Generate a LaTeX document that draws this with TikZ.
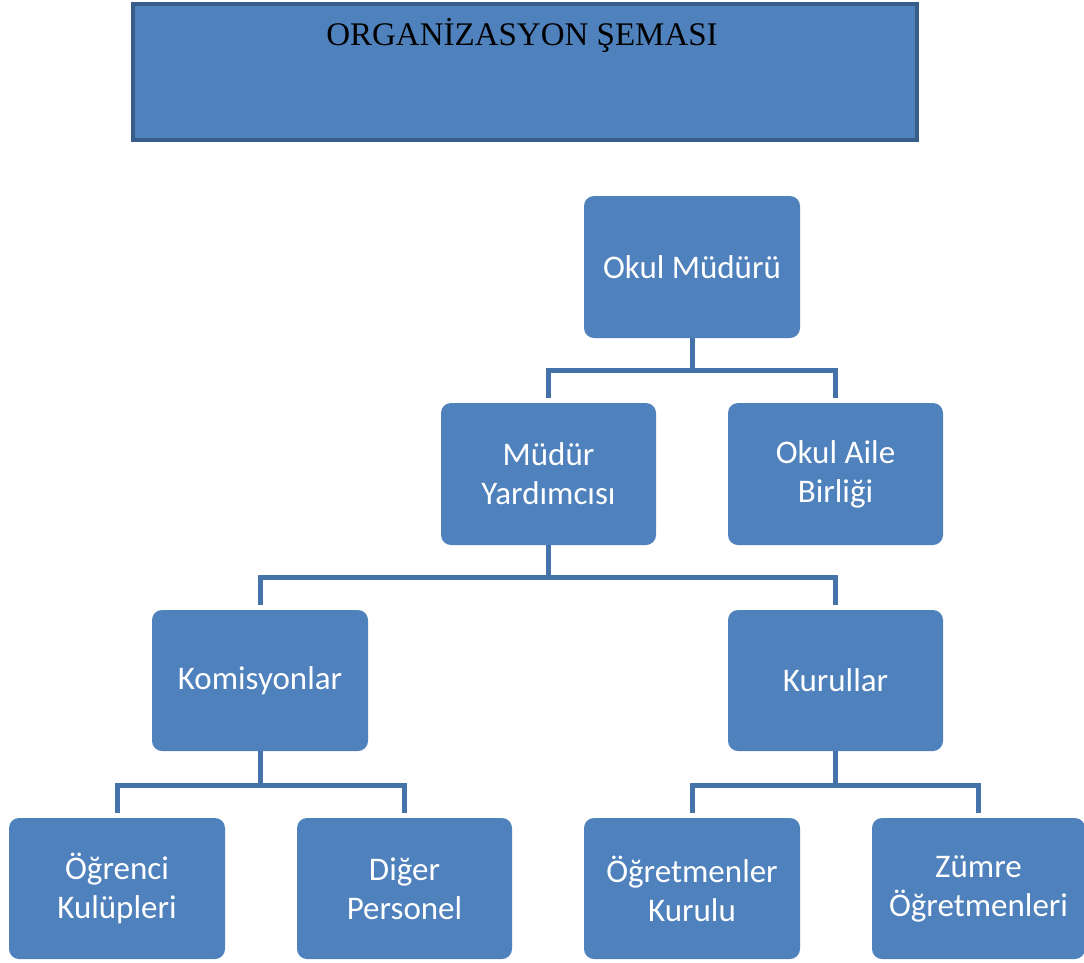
\documentclass[tikz,border=0pt]{standalone}
\usepackage{fontspec}
\setmainfont{Carlito}
\newfontfamily\titlefont{Liberation Serif}
\definecolor{boxfill}{HTML}{4F81BD}
\definecolor{titleedge}{HTML}{385D8A}
\definecolor{linecol}{HTML}{4672AA}
\begin{document}
\begin{tikzpicture}[x=1pt,y=-1pt,
  orgbox/.style={fill=boxfill, rounded corners=10pt, minimum width=216pt, minimum height=142pt,
    text=white, align=center, font=\fontsize{33}{39}\selectfont, inner sep=0pt},
  link/.style={draw=linecol, line width=5pt, shorten >=5pt}]
\useasboundingbox (0,0) rectangle (1084,962);
% title
\node[fill=boxfill, draw=titleedge, line width=4pt, minimum width=784pt, minimum height=136pt,
  anchor=north west, inner sep=0pt] (titlebox) at (131,2) {};
\node[font=\titlefont\fontsize{33}{39}\selectfont, anchor=base, inner sep=0pt] (titletext) at (522,45) {ORGANİZASYON ŞEMASI};
% boxes
\node[orgbox] (om) at (692,267) {Okul Müdürü};
\node[orgbox, minimum width=215pt] (my) at (548.5,474) {Müdür\\Yardımcısı};
\node[orgbox, minimum width=215pt] (oab) at (835.5,474) {Okul Aile\\Birliği};
\node[orgbox, minimum height=141pt] (kom) at (260,680.5) {Komisyonlar};
\node[orgbox, minimum width=215pt, minimum height=141pt] (kur) at (835.5,680.5) {Kurullar};
\node[orgbox, minimum height=141pt] (ok) at (117,888.5) {Öğrenci\\Kulüpleri};
\node[orgbox, minimum width=215pt, minimum height=141pt] (dp) at (404.5,888.5) {Diğer\\Personel};
\node[orgbox, minimum height=141pt] (oku) at (692,888.5) {Öğretmenler\\Kurulu};
\node[orgbox, minimum width=213pt, minimum height=141pt] (zo) at (978.5,888.5) {Zümre\\Öğretmenleri};
% hubs
\coordinate (h1) at (692,370);
\coordinate (h2) at (548.5,577);
\coordinate (h3) at (260,785);
\coordinate (h4) at (835.5,785);
% connectors
\draw[link, shorten >=0pt] (om.south) -- (h1);
\draw[link] (h1) -| (my.north);
\draw[link] (h1) -| (oab.north);
\draw[link, shorten >=0pt] (my.south) -- (h2);
\draw[link] (h2) -| (kom.north);
\draw[link] (h2) -| (kur.north);
\draw[link, shorten >=0pt] (kom.south) -- (h3);
\draw[link] (h3) -| (ok.north);
\draw[link] (h3) -| (dp.north);
\draw[link, shorten >=0pt] (kur.south) -- (h4);
\draw[link] (h4) -| (oku.north);
\draw[link] (h4) -| (zo.north);
\end{tikzpicture}
\end{document}
